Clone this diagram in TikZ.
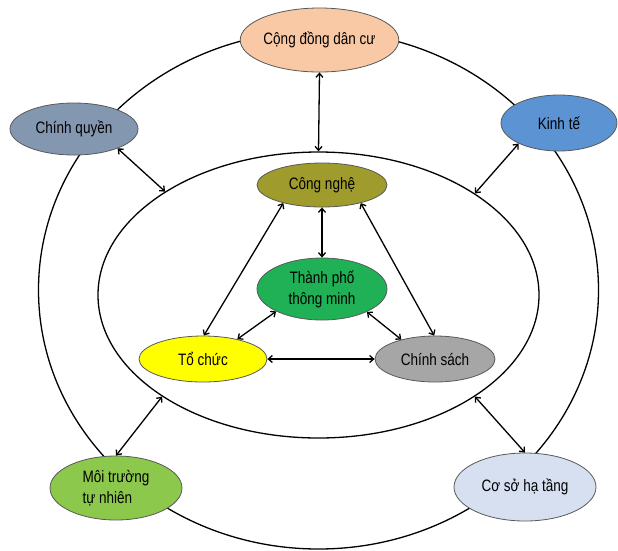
\documentclass[tikz,border=0pt]{standalone}
\usepackage{fontspec}
\setmainfont{Liberation Sans}[FakeStretch=0.82]
\usetikzlibrary{shapes.geometric,arrows.meta}

\definecolor{cdfill}{HTML}{F9C9A6}
\definecolor{cqfill}{HTML}{8497B0}
\definecolor{ktfill}{HTML}{5B93D3}
\definecolor{cnfill}{HTML}{9F9C2D}
\definecolor{tpfill}{HTML}{20B055}
\definecolor{tcfill}{HTML}{FFFF00}
\definecolor{csfill}{HTML}{A6A6A6}
\definecolor{mtfill}{HTML}{8CC84B}
\definecolor{htfill}{HTML}{D6E0F0}

\tikzset{
  ring/.style={draw, ellipse, line width=1.3pt, inner sep=0pt},
  blob/.style={draw=black!65, line width=0.8pt, ellipse, inner sep=0pt,
    font=\fontsize{16.5}{21}\selectfont, align=center},
  link/.style={line width=1.3pt, {Straight Barb[length=4pt,width=7pt]}-{Straight Barb[length=4pt,width=7pt]}},
}

\begin{document}
\begin{tikzpicture}[x=1pt, y=-1pt]
  \useasboundingbox (0,0) rectangle (618,550);

  % the two rings
  \node[ring, minimum width=560pt, minimum height=518pt] (outer) at (318.5,290) {};
  \node[ring, minimum width=441pt, minimum height=286pt] (inner) at (318.5,295) {};

  % outer ring members
  \node[blob, fill=cdfill, minimum width=147pt, minimum height=64pt] (cd) at (319.5,40) {Cộng đồng dân cư};
  \node[blob, fill=cqfill, minimum width=128pt, minimum height=52pt] (cq) at (74,129) {Chính quyền};
  \node[blob, fill=ktfill, minimum width=116pt, minimum height=56pt] (kt) at (559,123) {Kinh tế};
  \node[blob, fill=mtfill, minimum width=132pt, minimum height=64pt, align=left] (mt) at (116,488) {Môi trường\\tự nhiên};
  \node[blob, fill=htfill, minimum width=142pt, minimum height=68pt] (ht) at (525,487) {Cơ sở hạ tầng};

  % inner ring members
  \node[blob, fill=cnfill, minimum width=130pt, minimum height=44pt] (cn) at (322,185) {Công nghệ};
  \node[blob, fill=tpfill, minimum width=130pt, minimum height=62pt] (tp) at (322,289) {Thành phố\\thông minh};
  \node[blob, fill=tcfill, minimum width=128pt, minimum height=46pt] (tc) at (203,359) {Tổ chức};
  \node[blob, fill=csfill, minimum width=120pt, minimum height=46pt] (cs) at (435,359) {Chính sách};

  % links between the rings
  \draw[link] (cd.south) -- (inner.90);
  \draw[link] (cq.-24) -- (inner.146);
  \draw[link] (kt.207) -- (inner.33);
  \draw[link] (mt.90) -- (inner.213);
  \draw[link] (ht.90) -- (inner.-33);

  % links inside the inner ring
  \draw[link] (cn.south) -- (tp.north);
  \draw[link] (cn.205) -- (tc.88);
  \draw[link] (cn.-25) -- (cs.92);
  \draw[link] (tp.206) -- (tc.30);
  \draw[link] (tp.-27) -- (cs.150);
  \draw[link] (tc.east) -- (cs.west);
\end{tikzpicture}
\end{document}
